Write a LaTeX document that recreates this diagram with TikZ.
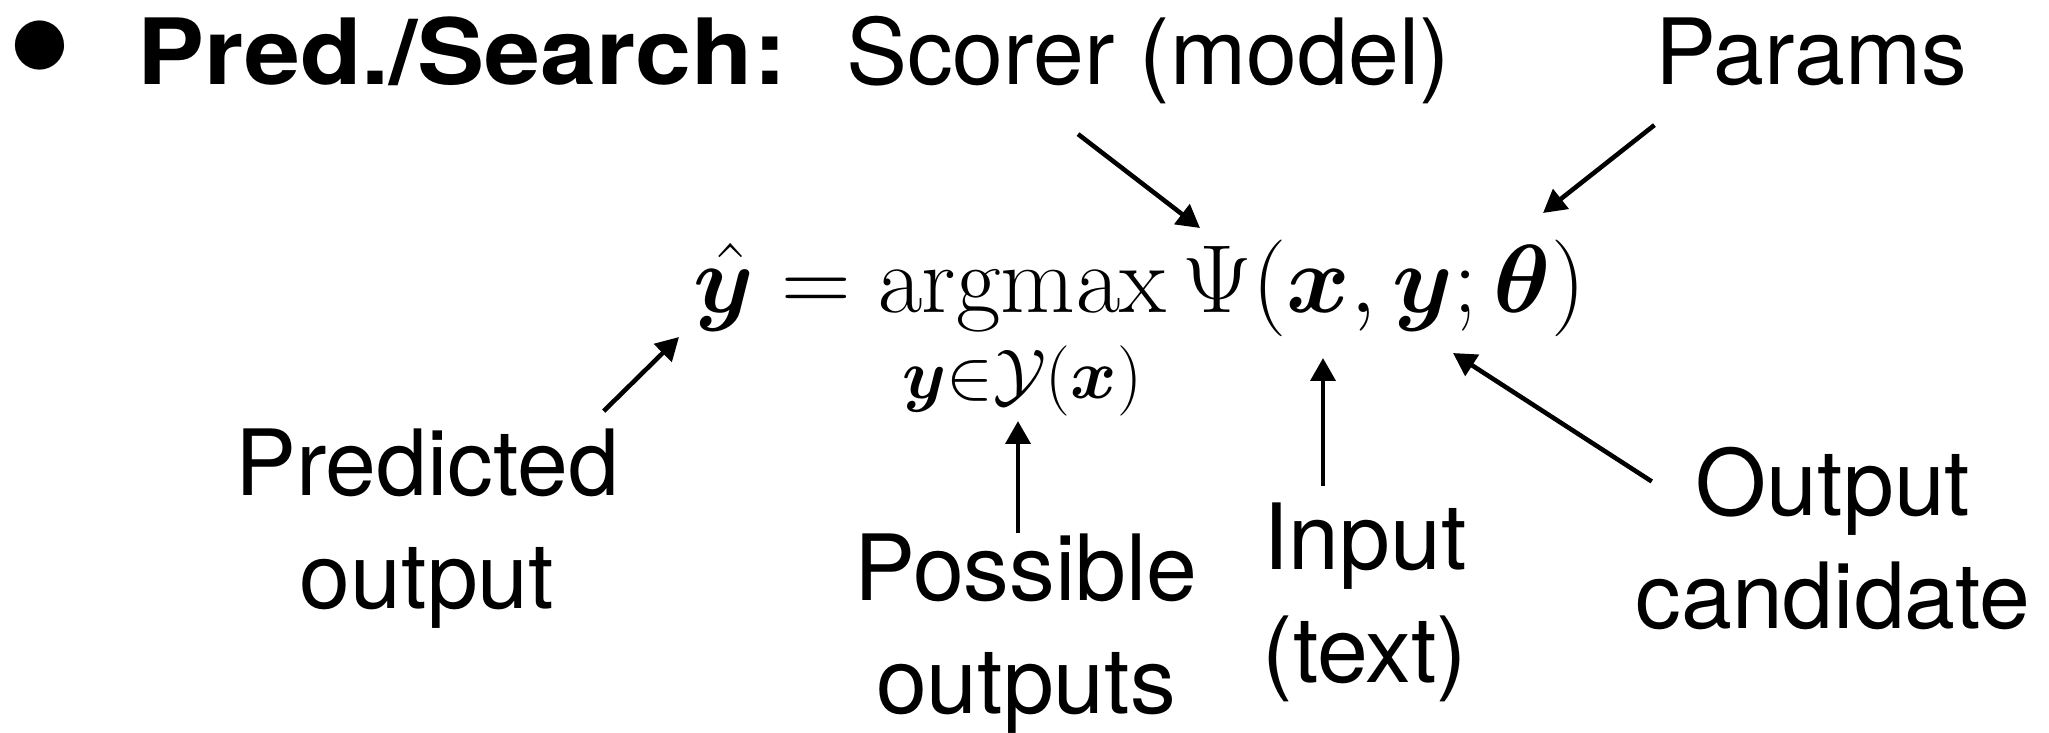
\RequirePackage{fix-cm}
\documentclass[tikz,border=0pt]{standalone}
\usepackage{amsmath}
\usepackage{bm}
\usepackage[no-math]{fontspec}
\setmainfont{TeX Gyre Heros}
\newfontfamily\headfont[FakeStretch=1.1]{TeX Gyre Heros}
\usetikzlibrary{arrows.meta, calc}
\DeclareMathOperator*{\argmax}{argmax}
\DeclareMathSizes{27.5}{27.5}{20}{14}

\begin{document}
\begin{tikzpicture}[
  x=0.01cm, y=-0.01cm,
  lbl/.style={inner sep=0pt, align=center, anchor=base, font=\fontsize{26}{32}\selectfont},
  arr/.style={-{Triangle[length=6.5pt, width=7pt]}, line width=1.3pt},
]
\useasboundingbox (0,0) rectangle (2049,732);

% Heading line
\node[lbl, anchor=center, font=\fontsize{56}{56}\selectfont] (dot) at (40,67) {\textbullet};
\node[lbl, anchor=base west, font=\fontsize{26}{32}\headfont\bfseries] (head) at (137,84) {Pred./Search:};
\node[lbl] (scorer) at (1148,84) {Scorer (model)};
\node[lbl] (params) at (1811,84) {Params};

% Prediction rule
\node[lbl, anchor=base west, font=\fontsize{27.5}{32}\selectfont] (rule) at (693,312)
  {$\displaystyle\hat{\bm{y}} = \argmax_{\bm{y}\in\mathcal{Y}(\bm{x})} \Psi(\bm{x},\bm{y};\bm{\theta})$};
\coordinate (hat) at (679,337);
\coordinate (psi) at (1200,228);
\coordinate (theta) at (1543,213);
\coordinate (sub) at (1018,421);
\coordinate (xin) at (1323,358);
\coordinate (yin) at (1453,353);

% Labels below (placed at their last baseline)
\node[lbl] (pred) at (427,608) {Predicted\\output};
\node[lbl] (poss) at (1026,713) {Possible\\outputs};
\node[lbl] (inp) at (1365,682) {Input\\(text)};
\node[lbl] (cand) at (1833,628) {Output\\candidate};

% Arrows
\draw[arr] ($(scorer.south)+(-70,30)$) -- (psi);
\draw[arr] ($(params.south west)+(0,39)$) -- (theta);
\draw[arr] ($(pred.north east)+(-16,-17)$) -- (hat);
\draw[arr] (sub |- poss.north) -- (sub);
\draw[arr] ($(xin |- inp.north)+(0,-16)$) -- (xin);
\draw[arr] ($(cand.north west)+(17,35)$) -- (yin);
\end{tikzpicture}
\end{document}
